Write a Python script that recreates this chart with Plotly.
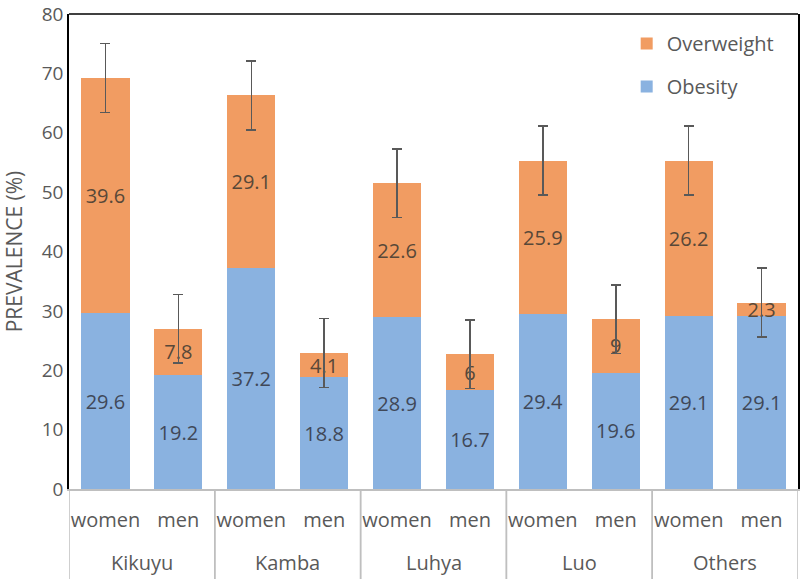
import plotly.graph_objects as go

groups = ["Kikuyu", "Kikuyu", "Kamba", "Kamba", "Luhya", "Luhya", "Luo", "Luo", "Others", "Others"]
sexes = ["women", "men", "women", "men", "women", "men", "women", "men", "women", "men"]
obesity = [29.6, 19.2, 37.2, 18.8, 28.9, 16.7, 29.4, 19.6, 29.1, 29.1]
overweight = [39.6, 7.8, 29.1, 4.1, 22.6, 6, 25.9, 9, 26.2, 2.3]
error = [5.8, 5.8, 5.8, 5.8, 5.8, 5.8, 5.8, 5.8, 5.8, 5.8]

GREY = "#595959"
FONT = "Open Sans"
FS = 20

xpos = list(range(len(sexes)))

fig = go.Figure()
fig.add_trace(go.Bar(
    x=xpos, y=obesity, name="Obesity",
    marker=dict(color="#8AB2E0", line=dict(width=0)),
    text=[str(v) for v in obesity], textposition="inside",
    insidetextanchor="middle", constraintext="none",
    textfont=dict(color="#404858", size=FS, family=FONT),
    legendgroup="a", legendrank=2,
))
fig.add_trace(go.Bar(
    x=xpos, y=overweight, name="Overweight",
    marker=dict(color="#F19C62", line=dict(width=0)),
    text=[str(v) for v in overweight], textposition="inside",
    insidetextanchor="middle", constraintext="none",
    textfont=dict(color="#584838", size=FS, family=FONT),
    error_y=dict(type="data", array=error, visible=True, color=GREY,
                 thickness=1.5, width=5),
    legendgroup="b", legendrank=1,
))

# group labels and dividers derived from the category list
shapes = []
annotations = []
unique_groups = []
for g in groups:
    if g not in unique_groups:
        unique_groups.append(g)
for g in unique_groups:
    idx = [i for i, gg in enumerate(groups) if gg == g]
    annotations.append(dict(x=sum(idx) / len(idx), y=-0.155, xref="x", yref="paper",
                            text=g, showarrow=False, yanchor="middle",
                            font=dict(size=FS, color=GREY, family=FONT)))
    for b in (idx[0] - 0.5, idx[-1] + 0.5):
        shapes.append(dict(type="line", xref="x", yref="paper", x0=b, x1=b,
                           y0=0, y1=-0.2, line=dict(color="#bfbfbf", width=1.5)))
shapes.append(dict(type="line", xref="paper", yref="paper", x0=0, x1=1,
                   y0=1, y1=1, line=dict(color="black", width=1.5)))

fig.update_layout(
    width=800, height=579,
    barmode="stack", bargap=0.34,
    paper_bgcolor="white", plot_bgcolor="white",
    margin=dict(l=69, r=2, t=14, b=90, autoexpand=False),
    font=dict(family=FONT, color=GREY, size=FS),
    uniformtext=dict(minsize=FS, mode="show"),
    legend=dict(x=0.765, y=0.979, xanchor="left", yanchor="top",
                traceorder="grouped", tracegroupgap=14,
                font=dict(size=FS, color=GREY, family=FONT),
                bgcolor="rgba(0,0,0,0)"),
    xaxis=dict(range=[-0.5, len(sexes) - 0.5], tickmode="array", tickvals=xpos,
               ticktext=sexes, showline=True, linecolor="#bfbfbf",
               linewidth=1.5, ticks="", showgrid=False, zeroline=False,
               ticklabelstandoff=12, automargin=False,
               tickfont=dict(size=FS, color=GREY, family=FONT)),
    yaxis=dict(range=[0, 80], dtick=10, showgrid=False, zeroline=False,
               showline=True, linecolor="black", linewidth=1.5, mirror=True,
               ticks="", automargin=False, ticklabeloverflow="allow",
               tickfont=dict(size=19, color=GREY, family=FONT),
               title=dict(text="PREVALENCE (%)", standoff=25,
                          font=dict(size=21, color=GREY, family=FONT))),
    shapes=shapes,
    annotations=annotations,
)

# remove the browser's default 8px body margin so the figure fills the window
fig.write_html("out.html", config={"displayModeBar": False},
               post_script="document.body.style.margin='0';")
